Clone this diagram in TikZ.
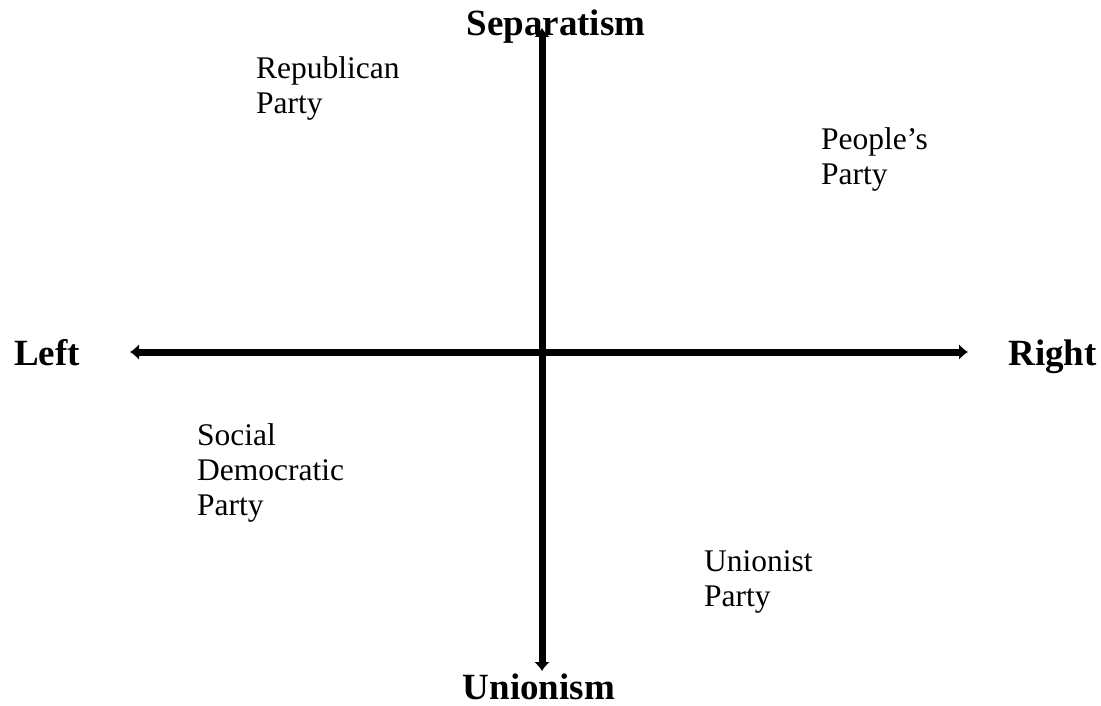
\documentclass[tikz,border=0pt]{standalone}
\usepackage{fontspec}
\setmainfont{Liberation Serif}
\usetikzlibrary{arrows.meta}
\begin{document}
\begin{tikzpicture}[x=1pt,y=-1pt,
  party/.style={anchor=north west,inner sep=0pt,align=left,font=\fontsize{31.5}{35}\selectfont},
  axislabel/.style={inner sep=0pt,font=\fontsize{37}{44}\selectfont\bfseries},
  axis/.style={line width=7pt,{Latex[length=9pt,width=16pt]}-{Latex[length=9pt,width=16pt]}}]
\useasboundingbox (0,0) rectangle (1101,706);
\coordinate (L) at (130,352);
\coordinate (R) at (968,352);
\coordinate (T) at (542,28);
\coordinate (B) at (542,671);
\draw[axis] (L) -- (R);
\draw[axis] (T) -- (B);
\node[axislabel,anchor=base west] (left) at (14,365) {Left};
\node[axislabel,anchor=base east] (right) at (1097,365) {Right};
\node[axislabel,anchor=base] (sep) at (556,36) {Separatism};
\node[axislabel,anchor=base] (uni) at (539,699) {Unionism};
\node[party] (rep) at (256,56) {Republican\\Party};
\node[party] (peo) at (821,127) {People’s\\Party};
\node[party] (soc) at (197,423) {Social\\Democratic\\Party};
\node[party] (unp) at (704,550) {Unionist\\Party};
\end{tikzpicture}
\end{document}
